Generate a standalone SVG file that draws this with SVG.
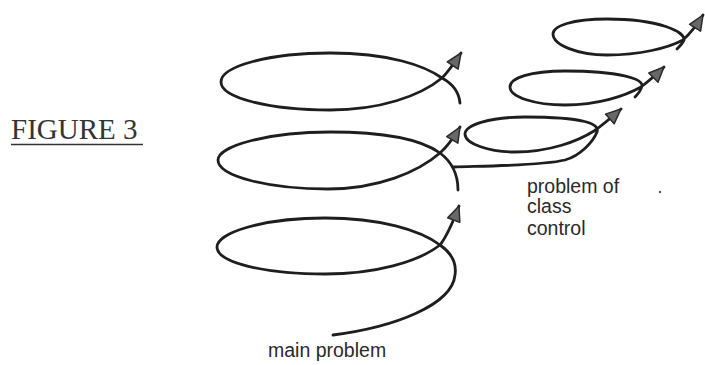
<svg xmlns="http://www.w3.org/2000/svg" width="705" height="365" viewBox="0 0 705 365">
<style>
.loop{fill:none;stroke:#1e1e1e;stroke-width:2.8;stroke-linecap:round;stroke-linejoin:round}
.arr{marker-end:url(#ah)}
.sans{font-family:"Liberation Sans",Arial,sans-serif;font-size:19.5px;fill:#2a2a2a}
.serif{font-family:"Liberation Serif","Times New Roman",serif;font-size:29px;fill:#333}
</style>
<defs>
<marker id="ah" markerUnits="userSpaceOnUse" viewBox="0 0 17 15" refX="16" refY="7.5" markerWidth="17" markerHeight="15" orient="auto">
<path d="M1,1 L16,7.5 L1,14 Z" fill="#686868" stroke="#2a2a2a" stroke-width="1.5" stroke-linejoin="round"/>
</marker>
</defs>
<rect width="705" height="365" fill="#fff"/>
<g id="title">
<text class="serif" x="11" y="139">FIGURE 3</text>
<line x1="11" y1="144.5" x2="143" y2="144.5" stroke="#333" stroke-width="1.5"/>
</g>
<g id="connectors">
<path id="loop-top" class="loop arr" d="M460,103 C459,92 453,84 442,78 C425,66 390,53 330,53 C270,53 221,66 221,82 C221,98 270,110 330,110 C380,110 420,96 442,78 C449,71 455,62 461,53"/>
<path id="loop-middle" class="loop arr" d="M458,190 C458,175 452,162 440,153 C422,140 385,132 330,132 C268,132 218,146 218,160 C218,176 268,189 328,189 C378,189 418,172 440,153 C448,146 454,137 460,127"/>
<path id="loop-bottom" class="loop arr" d="M333,335 C395,327 452,305 455,275 C457,262 450,252 440,245 C420,230 380,218 325,218 C262,218 217,233 217,247 C217,262 262,274 325,274 C375,274 418,262 440,245 C447,236 453,222 459,206"/>
<path id="small-1" class="loop arr" d="M454,167 C480,166 540,166 565,160 C580,156 593,142 597,132 C600,124 585,117 525,117 C490,117 465,125 465,134 C465,144 490,152 515,152 C550,152 578,141 594,131 C604,124 612,117 621,109"/>
<path id="small-2" class="loop arr" d="M635,97 C638,94 641,90 642,86 C643,79 620,71 565,71 C530,71 510,78 510,87 C510,97 535,105 565,105 C598,105 625,96 641,87 C650,80 657,74 664,67"/>
<path id="small-3" class="loop arr" d="M677,49 C680,46 683,43 684,40 C685,32 660,19 607,19 C572,19 553,26 553,34 C553,45 578,55 607,55 C640,55 668,48 683,40 C691,33 698,23 703,15"/>
</g>
<g id="label-class">
<text class="sans" x="527" y="193">problem of</text>
<text class="sans" x="527" y="213">class</text>
<text class="sans" x="527" y="235">control</text>
</g>
<g id="label-main">
<text class="sans" x="268" y="357">main problem</text>
</g>
<circle cx="660" cy="192" r="1.2" fill="#555"/>
</svg>
